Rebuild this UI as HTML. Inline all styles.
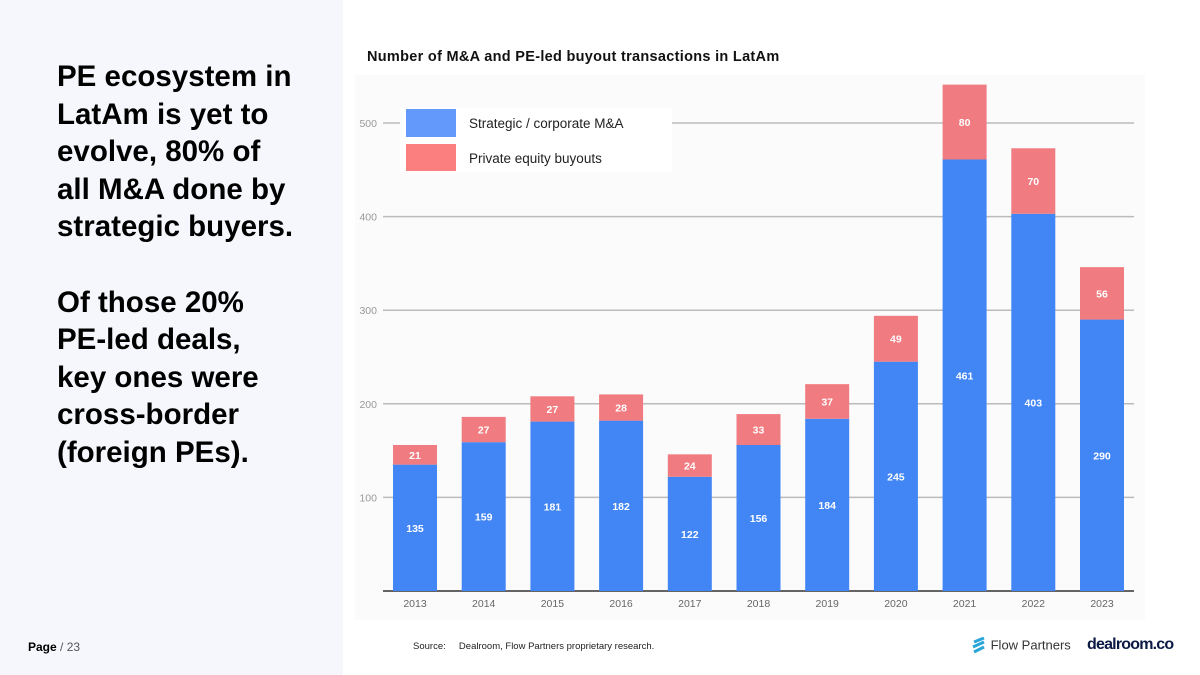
<!DOCTYPE html>
<html><head><meta charset="utf-8"><style>
body{margin:0;width:1200px;height:675px;position:relative;overflow:hidden;background:#fff;font-family:"Liberation Sans",sans-serif}
#left{position:absolute;left:0;top:0;width:343px;height:675px;background:#f5f7fc}
#headline{position:absolute;left:57px;top:58px;font-weight:bold;font-size:29.5px;line-height:37.6px;color:#000;letter-spacing:0px}
#page{position:absolute;left:28px;top:640px;font-size:12px;color:#000}
#chartbg{position:absolute;left:355px;top:75px;width:790px;height:545px;background:#fbfbfb}
#title{position:absolute;left:367px;top:49px;font-size:14.5px;font-weight:bold;color:#111;letter-spacing:0.3px}
#source{position:absolute;left:413px;top:641px;font-size:9.5px;color:#222}
</style></head><body>
<div id="left"></div>
<div id="headline">PE ecosystem in<br>LatAm is yet to<br>evolve, 80% of<br>all M&amp;A done by<br>strategic buyers.<br><br>Of those 20%<br>PE-led deals,<br>key ones were<br>cross-border<br>(foreign PEs).</div>
<div id="page"><b>Page</b> <span style="color:#555">/ 23</span></div>
<div id="chartbg"></div>
<div id="title">Number of M&amp;A and PE-led buyout transactions in LatAm</div>
<svg id="chart" width="1200" height="675" style="position:absolute;left:0;top:0"></svg>
<div id="source">Source:&nbsp;&nbsp;&nbsp;&nbsp;&nbsp;Dealroom, Flow Partners proprietary research.</div>
<div style="position:absolute;left:971px;top:637px;font-size:13px;color:#333">
<svg width="16" height="18" style="vertical-align:middle"><path d="M3 5 L13 1 M2 10 L13 5 M3 15 L13 10" stroke="#2aa6d8" stroke-width="3"/></svg> Flow Partners</div>
<div style="position:absolute;left:1087px;top:636px;font-size:16px;font-weight:bold;color:#0b1a45;letter-spacing:-0.8px">dealroom.co</div>
<script>
const years=["2013","2014","2015","2016","2017","2018","2019","2020","2021","2022","2023"];
const strategic=[135,159,181,182,122,156,184,245,461,403,290];
const pe=[21,27,27,28,24,33,37,49,80,70,56];
const yTicks=[100,200,300,400,500];
const svg=document.getElementById('chart');const NS='http://www.w3.org/2000/svg';
const y0=591,pxPer=0.936,x0=415,step=68.7,bw=44;
const Y=v=>y0-v*pxPer, X=i=>x0+i*step;
function el(t,a,txt){const e=document.createElementNS(NS,t);for(const k in a)e.setAttribute(k,a[k]);if(txt!=null)e.textContent=txt;svg.appendChild(e);return e;}
yTicks.forEach(v=>{
 const l=el('line',{x1:383,x2:1134,y1:Y(v),y2:Y(v),stroke:'#bbb','stroke-width':1.5});
 
 
 const t=el('text',{x:377,y:Y(v)+4,'text-anchor':'end','font-size':10.5,fill:'#999'},v);
 
 
});
const ax=el('line',{x1:383,x2:1134,y1:y0,y2:y0,stroke:'#333','stroke-width':1.5});


years.forEach((yr,i)=>{
 const cx=X(i),s=strategic[i],p=pe[i];
 const b=el('rect',{x:cx-bw/2,y:Y(s),width:bw,height:s*pxPer,fill:'#4285f4'});
 
 
 const r=el('rect',{x:cx-bw/2,y:Y(s+p),width:bw,height:p*pxPer,fill:'#f07b80'});
 
 
 const t1=el('text',{x:cx,y:(Y(s)+y0)/2+4,'text-anchor':'middle','font-size':10.5,'font-weight':'bold',fill:'#fff'},s);
 
 
 const t2=el('text',{x:cx,y:(Y(s)+Y(s+p))/2+4,'text-anchor':'middle','font-size':10.5,'font-weight':'bold',fill:'#fff'},p);
 
 
 const xt=el('text',{x:cx,y:607,'text-anchor':'middle','font-size':10.5,fill:'#666'},yr);
 
 
});
const lg=el('rect',{x:400,y:108,width:272,height:64,fill:'#fff'});


const s1=el('rect',{x:406,y:109,width:50,height:28,fill:'#6399fb'});


const s2=el('rect',{x:406,y:144,width:50,height:27,fill:'#fb7f7f'});


const l1=el('text',{x:469,y:128,'font-size':13.5,fill:'#222'},'Strategic / corporate M&A');


const l2=el('text',{x:469,y:163,'font-size':13.5,fill:'#222'},'Private equity buyouts');


</script>
</body></html>
